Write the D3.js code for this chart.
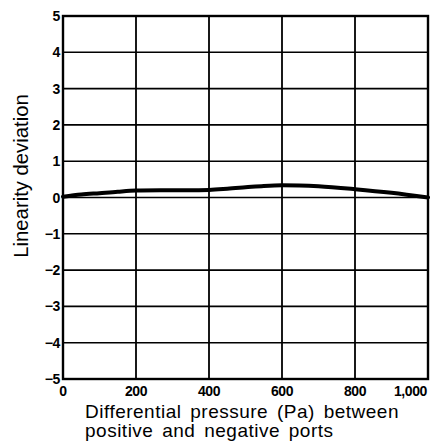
<!DOCTYPE html>
<html>
<head>
<meta charset="utf-8">
<script src="https://cdn.jsdelivr.net/npm/d3@7"></script>
<style>
    body { margin: 0; background: #fff; }
    svg { display: block; }
    text { fill: #000; }
</style>
</head>
<body>
<script>
const pressure = [0, 50, 100, 150, 200, 300, 400, 450, 500, 550, 600, 700, 800, 900, 1000];
const deviation = [0.02, 0.08, 0.12, 0.16, 0.19, 0.2, 0.21, 0.24, 0.28, 0.32, 0.34, 0.31, 0.23, 0.13, 0];
const xTicks = [0, 200, 400, 600, 800, 1000];
const yTicks = [-5, -4, -3, -2, -1, 0, 1, 2, 3, 4, 5];
const xTitle = ['Differential pressure (Pa) between', 'positive and negative ports'];
const yTitle = 'Linearity deviation';

const width = 430, height = 444;
const margins = { top: 16, left: 63, right: 2, bottom: 65 };

const svg = d3.select('body').append('svg')
    .attr('width', width)
    .attr('height', height);

const x = d3.scaleLinear()
    .domain([0, 1000])
    .range([margins.left, width - margins.right]);
const y = d3.scaleLinear()
    .domain([-5, 5])
    .range([height - margins.bottom, margins.top]);

// grid
svg.append('g')
    .selectAll('line')
    .data(yTicks)
    .join('line')
    .attr('x1', x(0)).attr('x2', x(1000))
    .attr('y1', d => y(d)).attr('y2', d => y(d))
    .attr('stroke', '#000')
    .attr('stroke-width', 1.6);
svg.append('g')
    .selectAll('line')
    .data(xTicks)
    .join('line')
    .attr('y1', y(-5)).attr('y2', y(5))
    .attr('x1', d => x(d)).attr('x2', d => x(d))
    .attr('stroke', '#000')
    .attr('stroke-width', 1.8);

svg.append('rect')
    .attr('x', x(0)).attr('y', y(5))
    .attr('width', x(1000) - x(0))
    .attr('height', y(-5) - y(5))
    .attr('fill', 'none')
    .attr('stroke', '#000')
    .attr('stroke-width', 2.4);

// tick labels
const fmt = d3.format(',');
svg.append('g')
    .selectAll('text')
    .data(yTicks)
    .join('text')
    .attr('x', x(0) - 3)
    .attr('y', d => y(d))
    .attr('dy', '0.36em')
    .attr('text-anchor', 'end')
    .style('font', 'bold 14px "Liberation Sans", Arial, sans-serif')
    .style('letter-spacing', '-0.4px')
    .text(d => d < 0 ? '\u2212' + Math.abs(d) : d);

svg.append('g')
    .selectAll('text')
    .data(xTicks)
    .join('text')
    .attr('x', d => d === 1000 ? x(d) - 1 : x(d))
    .attr('y', y(-5) + 17)
    .attr('text-anchor', d => d === 1000 ? 'end' : 'middle')
    .style('font', 'bold 14px "Liberation Sans", Arial, sans-serif')
    .style('letter-spacing', '-0.4px')
    .text(d => fmt(d));

// axis titles
svg.append('g')
    .selectAll('text')
    .data(xTitle)
    .join('text')
    .attr('x', 85)
    .attr('y', (d, i) => 418 + i * 19)
    .style('font', '19px "Liberation Sans", Arial, sans-serif')
    .style('letter-spacing', '0.5px')
    .style('word-spacing', '3px')
    .text(d => d);

svg.append('text')
    .attr('transform', 'translate(28,176) rotate(-90)')
    .attr('text-anchor', 'middle')
    .style('font', '20.3px "Liberation Sans", Arial, sans-serif')
    .text(yTitle);

// curve
const line = d3.line()
    .x((d, i) => x(pressure[i]))
    .y(d => y(d))
    .curve(d3.curveMonotoneX);

svg.append('path')
    .datum(deviation)
    .attr('d', line)
    .attr('fill', 'none')
    .attr('stroke', '#000')
    .attr('stroke-width', 4)
    .attr('stroke-linecap', 'round');
</script>
</body>
</html>
